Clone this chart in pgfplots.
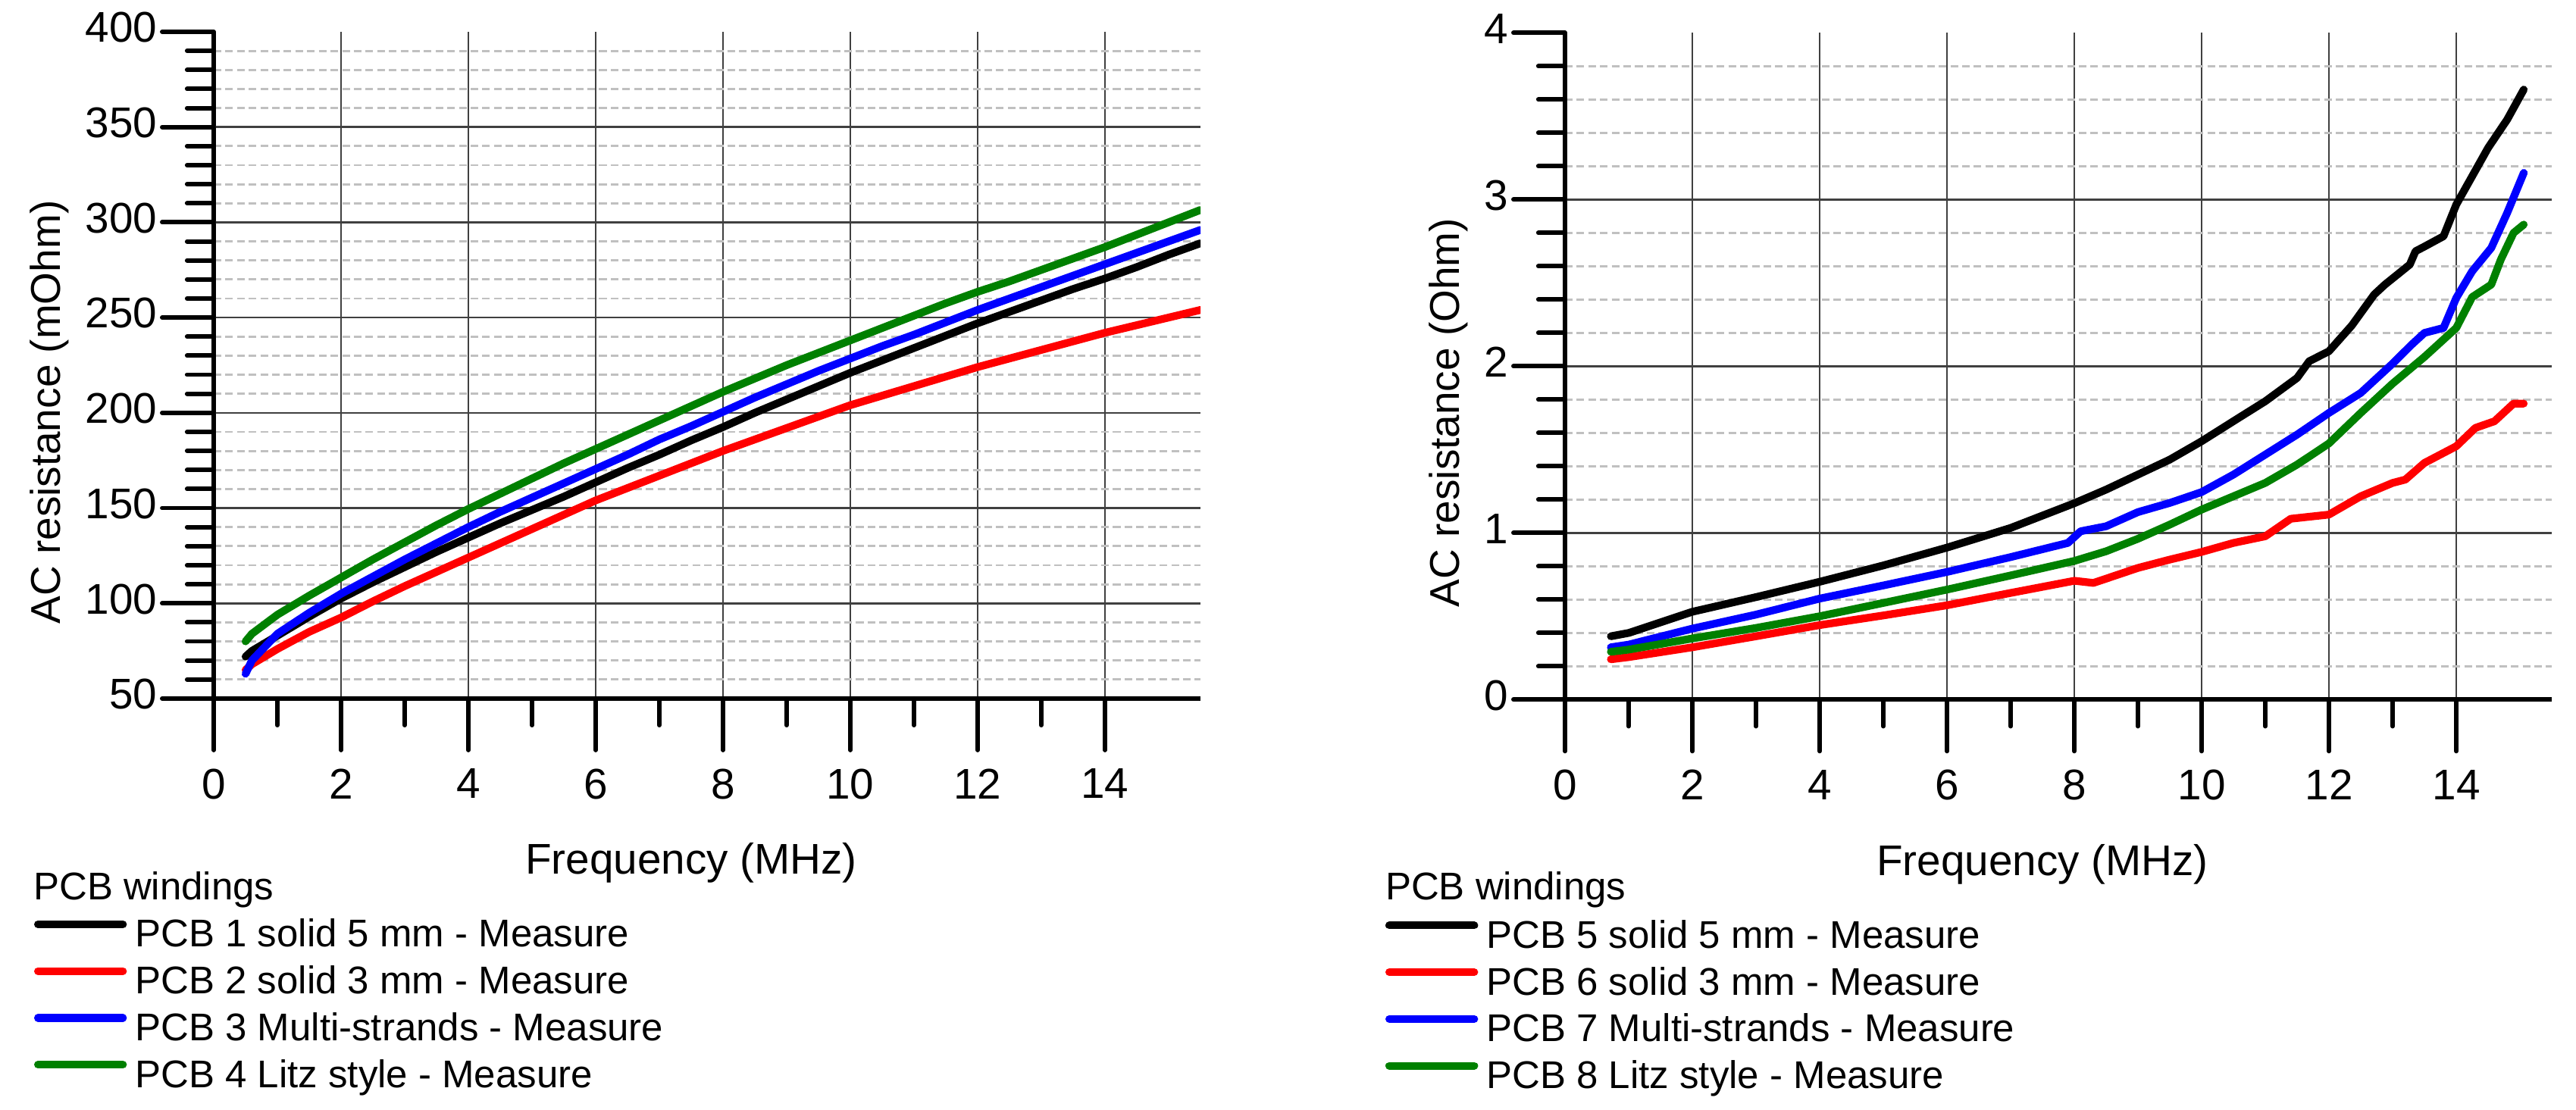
\documentclass[border=0pt]{standalone}
\usepackage{fontspec}
\setmainfont{Liberation Sans}
\usepackage{pgfplots}
\pgfplotsset{compat=1.18}
\definecolor{pgreen}{RGB}{0,128,0}
\definecolor{majgrid}{RGB}{64,64,64}
\definecolor{mingrid}{RGB}{192,192,192}

\pgfplotstableread{
x y
0.5 72
0.6 75
1 83
1.5 93
2 102.5
2.5 111
3 119
3.5 127
4 134.5
4.5 142
5 149
5.5 156
6 163.5
6.5 171
7 178
7.5 185.5
8 192.5
8.5 200
9 207
9.5 214
10 221
10.5 227.5
11 234
11.5 240.5
12 247
12.5 253
13 259
13.5 265
14 270.5
14.5 276.5
15 283
15.5 289
}\pcbone
\pgfplotstableread{
x y
0.5 65
0.6 68
1 76
1.5 85
2 92.5
2.5 101
3 109
3.5 116.5
4 124
4.5 131.5
5 139
5.5 146.5
6 154
6.5 160.5
7 167
7.5 173.5
8 180
8.5 186
9 192
9.5 198
10 204
10.5 209
11 214
11.5 219
12 224
12.5 228.5
13 233
13.5 237.5
14 242
14.5 246
15 250
15.5 254
}\pcbtwo
\pgfplotstableread{
x y
0.5 63
0.6 70
1 84
1.5 95
2 105
2.5 114
3 123
3.5 131.5
4 140
4.5 148
5 155.5
5.5 163
6 170.5
6.5 178
7 186
7.5 193
8 200.5
8.5 208
9 215
9.5 222
10 228.5
10.5 235
11 241
11.5 247.5
12 254
12.5 260
13 266
13.5 272
14 278
14.5 284
15 290
15.5 296
}\pcbthree
\pgfplotstableread{
x y
0.5 80
0.6 84
1 94
1.5 104
2 113.5
2.5 123
3 132
3.5 141
4 149.5
4.5 157.5
5 165.5
5.5 173.5
6 181
6.5 188.5
7 196
7.5 203.5
8 211
8.5 218
9 225
9.5 231.5
10 238
10.5 244.5
11 251
11.5 257.5
12 263.5
12.5 269
13 275
13.5 281
14 287
14.5 293.5
15 300
15.5 306.5
}\pcbfour

\pgfplotstableread{
x y
0.72 0.38
1 0.40
2 0.527
3 0.615
4 0.707
5 0.805
6 0.912
7 1.03
8 1.178
8.5 1.26
9 1.35
9.5 1.44
10 1.55
10.54 1.68
11 1.79
11.5 1.93
11.69 2.03
12 2.09
12.36 2.245
12.71 2.43
12.88 2.49
13.27 2.61
13.36 2.69
13.51 2.72
13.8 2.78
14 2.97
14.5 3.31
14.8 3.48
15.06 3.66
}\pcbfive
\pgfplotstableread{
x y
0.72 0.242
1 0.255
2 0.314
3 0.38
4 0.447
5 0.505
6 0.566
7 0.64
8 0.713
8.3 0.70
9 0.79
9.5 0.84
10 0.886
10.5 0.94
11 0.98
11.4 1.085
12 1.11
12.5 1.22
13 1.30
13.2 1.32
13.5 1.42
14 1.52
14.3 1.63
14.6 1.67
14.9 1.776
15.06 1.776
}\pcbsix
\pgfplotstableread{
x y
0.72 0.314
1 0.33
2 0.426
3 0.51
4 0.606
5 0.685
6 0.766
7 0.855
7.9 0.94
8.1 1.01
8.5 1.04
9 1.125
9.5 1.18
10 1.245
10.5 1.35
11 1.47
11.5 1.59
12 1.72
12.5 1.84
13 2.016
13.3 2.13
13.5 2.2
13.8 2.23
14 2.41
14.25 2.57
14.55 2.71
14.8 2.92
15.06 3.16
}\pcbseven
\pgfplotstableread{
x y
0.72 0.287
1 0.30
2 0.367
3 0.43
4 0.5
5 0.58
6 0.66
7 0.745
8 0.832
8.5 0.89
9 0.965
9.5 1.05
10 1.14
10.5 1.22
11 1.30
11.5 1.41
12 1.537
12.5 1.72
13 1.896
13.5 2.056
14 2.23
14.25 2.415
14.55 2.49
14.7 2.64
14.9 2.8
15.06 2.85
}\pcbeight

\pgfplotsset{
  myaxis/.style={
    scale only axis, width=229.83pt, height=155.34pt,
    xmin=0, xmax=15.5,
    axis x line=bottom, axis y line=left,
    axis line style={-, line width=1.05pt, black},
    xtick={0,2,...,14}, minor x tick num=1,
    minor y tick num=4,
    tick align=outside, major tick length=12pt, minor tick length=6.2pt,
    tick style={black, line width=1.05pt, line cap=round},
    xmajorgrids=true, yminorgrids=true,
    major grid style={majgrid, line width=0.45pt, line cap=butt},
    minor grid style={mingrid, line width=0.5pt, line cap=butt, dash pattern=on 1.77pt off 0.95pt},
    extra y tick style={grid=major, major tick length=0pt},
    /pgf/number format/assume math mode=true,
    tick label style={font=\fontsize{10}{12}\selectfont},
    yticklabel style={inner sep=0pt, xshift=-1pt, yshift=1pt},
    xticklabel style={inner sep=0pt, yshift=-4.2pt},
    xlabel={Frequency (MHz)},
    xlabel style={at={(axis description cs:0.4839,-0.2636)}, anchor=base, font=\fontsize{10}{12}\selectfont},
    ylabel style={anchor=base, font=\fontsize{9.7}{11}\selectfont},
    legend cell align=left,
    legend style={anchor=north west, at={(axis description cs:-0.18203,-0.3309)},
      draw=none, fill=none, inner sep=0pt, outer sep=0pt,
      row sep=2.5pt, column sep=1.95pt,
      font=\fontsize{9}{11}\selectfont,
      nodes={inner sep=0pt, text height=6.5pt, text depth=1.9pt}},
    legend image code/.code={\draw[line width=1.8pt, line cap=round] (0pt,3pt) -- (19.8pt,3pt);},
    every axis plot/.append style={line width=1.8pt, mark=none, line join=round, line cap=round},
  }
}

\begin{document}
\begin{tikzpicture}
\path[use as bounding box] (0,0) rectangle (600pt,258.6pt);
\begin{axis}[myaxis, at={(49.78pt,95.85pt)}, anchor=south west,
  ymin=50, ymax=400, ytick={50,100,...,400},
  extra y ticks={100,150,...,350}, extra y tick labels={},
  ylabel={AC resistance (mOhm)},
  ylabel style={at={(axis description cs:-0.15515,0.4295)}},
  legend entries={PCB 1 solid 5 mm - Measure, PCB 2 solid 3 mm - Measure, PCB 3 Multi-strands - Measure, PCB 4 Litz style - Measure}]
\addplot[black] table {\pcbone};
\addplot[red] table {\pcbtwo};
\addplot[blue] table {\pcbthree};
\addplot[pgreen] table {\pcbfour};
\end{axis}
\begin{axis}[myaxis, at={(364.52pt,95.6pt)}, anchor=south west,
  ymin=0, ymax=4, ytick={0,1,2,3,4},
  extra y ticks={1,2,3}, extra y tick labels={},
  ylabel={AC resistance (Ohm)},
  ylabel style={at={(axis description cs:-0.10684,0.4305)}},
  legend entries={PCB 5 solid 5 mm - Measure, PCB 6 solid 3 mm - Measure, PCB 7 Multi-strands - Measure, PCB 8 Litz style - Measure}]
\addplot[black] table {\pcbfive};
\addplot[red] table {\pcbsix};
\addplot[blue] table {\pcbseven};
\addplot[pgreen] table {\pcbeight};
\end{axis}
\node[anchor=base west, inner sep=0pt, font=\fontsize{9}{11}\selectfont] at (7.6pt,48.9pt) {PCB windings};
\node[anchor=base west, inner sep=0pt, font=\fontsize{9}{11}\selectfont] at (322.5pt,48.9pt) {PCB windings};
\end{tikzpicture}
\end{document}
